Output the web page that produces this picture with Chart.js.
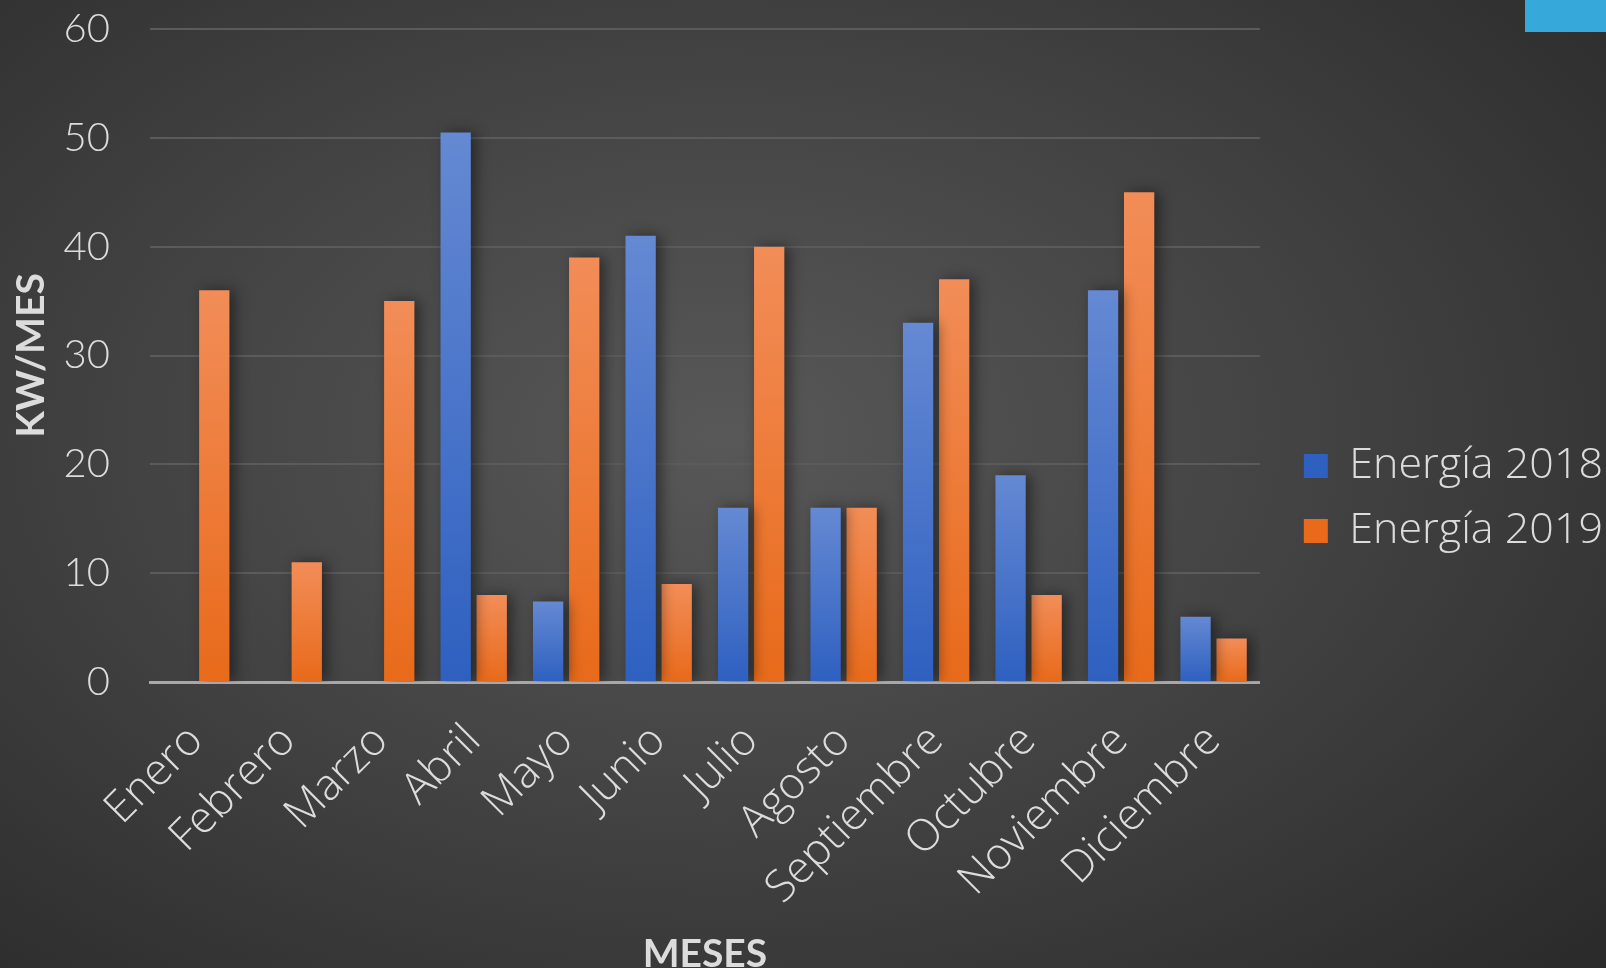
<!DOCTYPE html>
<html>
<head>
<meta charset="utf-8">
<script src="https://cdn.jsdelivr.net/npm/chart.js@4.4.1/dist/chart.umd.min.js"></script>
<style>
  html, body { margin: 0; padding: 0; overflow: hidden; }
  body {
    width: 1606px; height: 968px;
    background: radial-gradient(ellipse 75% 80% at 45% 45%, #585858 0%, #424242 50%, #2a2a2a 100%);
    position: relative;
  }
  #wrap { position: absolute; left: 0; top: 0; width: 1606px; height: 968px; }
  #corner { position: absolute; right: 0; top: 0; width: 81px; height: 32px; background: #37a8da; }
</style>
</head>
<body>
<div id="wrap"><canvas id="energyChart"></canvas></div>
<div id="corner"></div>
<script>
const months = ['Enero', 'Febrero', 'Marzo', 'Abril', 'Mayo', 'Junio', 'Julio', 'Agosto', 'Septiembre', 'Octubre', 'Noviembre', 'Diciembre'];
const energy2018 = [null, null, null, 50.5, 7.4, 41, 16, 16, 33, 19, 36, 6];
const energy2019 = [36, 11, 35, 8, 39, 9, 40, 16, 37, 8, 45, 4];
const yTicks = [0, 10, 20, 30, 40, 50, 60];

const textColor = '#dcdcdc';
const blue = ['#6589d3', '#2e60c0'];
const orange = ['#f28d58', '#e86a1a'];

// vertical gradient per bar, from its top down to zero
function barGradient(cols) {
    return function (ctx) {
        const chart = ctx.chart;
        const y = chart.scales.y;
        if (!y || ctx.raw == null) return cols[1];
        const y0 = y.getPixelForValue(0);
        const y1 = y.getPixelForValue(ctx.raw);
        if (!isFinite(y0) || !isFinite(y1) || y0 === y1) return cols[1];
        const g = chart.ctx.createLinearGradient(0, y1, 0, y0);
        g.addColorStop(0, cols[0]);
        g.addColorStop(1, cols[1]);
        return g;
    };
}

const barShadow = {
    id: 'barShadow',
    beforeDatasetsDraw(chart) {
        const c = chart.ctx;
        c.save();
        c.shadowColor = 'rgba(0,0,0,0.45)';
        c.shadowBlur = 14;
        c.shadowOffsetX = 5;
        c.shadowOffsetY = 0;
    },
    afterDatasetsDraw(chart) {
        chart.ctx.restore();
    }
};

// push the legend a bit away from the plot
const legendGap = {
    id: 'legendGap',
    afterLayout(chart) {
        if (chart.legend) {
            chart.legend.left += 22;
            chart.legend.right += 22;
        }
    }
};

new Chart(document.getElementById('energyChart').getContext('2d'), {
    type: 'bar',
    data: {
        labels: months,
        datasets: [{
            label: 'Energía 2018',
            data: energy2018,
            backgroundColor: barGradient(blue),
            categoryPercentage: 0.78,
            barPercentage: 0.84
        }, {
            label: 'Energía 2019',
            data: energy2019,
            backgroundColor: barGradient(orange),
            categoryPercentage: 0.78,
            barPercentage: 0.84
        }]
    },
    options: {
        responsive: true,
        maintainAspectRatio: false,
        animation: false,
        layout: { padding: { top: 29, right: 15, left: 0, bottom: 0 } },
        plugins: {
            tooltip: { enabled: false },
            legend: {
                position: 'right',
                align: 'start',
                title: { display: true, text: ' ', padding: { top: 0, bottom: 379 }, font: { size: 12 } },
                labels: {
                    color: textColor,
                    boxWidth: 24,
                    boxHeight: 24,
                    padding: 22,
                    font: { family: 'Open Sans', size: 43, weight: '300' },
                    generateLabels(chart) {
                        const cols = [blue, orange];
                        return chart.data.datasets.map((ds, i) => ({
                            text: ds.label, fillStyle: cols[i][1], strokeStyle: 'transparent',
                            lineWidth: 0, fontColor: textColor, datasetIndex: i, hidden: false
                        }));
                    }
                }
            }
        },
        scales: {
            x: {
                grid: { display: false },
                border: { color: '#a8a8a8', width: 3 },
                ticks: {
                    color: textColor,
                    maxRotation: 45,
                    minRotation: 45,
                    padding: 25,
                    font: { family: 'Open Sans', size: 44, weight: '300' }
                },
                title: {
                    display: true,
                    text: 'MESES',
                    color: textColor,
                    padding: { top: 0, bottom: -6 },
                    font: { family: 'Lato', size: 39, weight: 'bold', lineHeight: 1 }
                },
                afterFit(scale) { scale.height = 286; }
            },
            y: {
                min: 0,
                max: 60,
                afterBuildTicks(scale) { scale.ticks = yTicks.map(v => ({ value: v })); },
                grid: { color: '#5b5b5b', lineWidth: 2, drawTicks: true, tickLength: 40, tickColor: 'transparent' },
                border: { display: false },
                ticks: {
                    color: textColor,
                    padding: 0,
                    font: { family: 'Lato', size: 40, weight: '300' }
                },
                title: {
                    display: true,
                    text: 'KW/MES',
                    color: textColor,
                    padding: { top: 12, bottom: 0 },
                    font: { family: 'Lato', size: 39, weight: 'bold', lineHeight: 1 }
                },
                afterFit(scale) { scale.width = 150; }
            }
        }
    },
    plugins: [barShadow, legendGap]
});
</script>
</body>
</html>
